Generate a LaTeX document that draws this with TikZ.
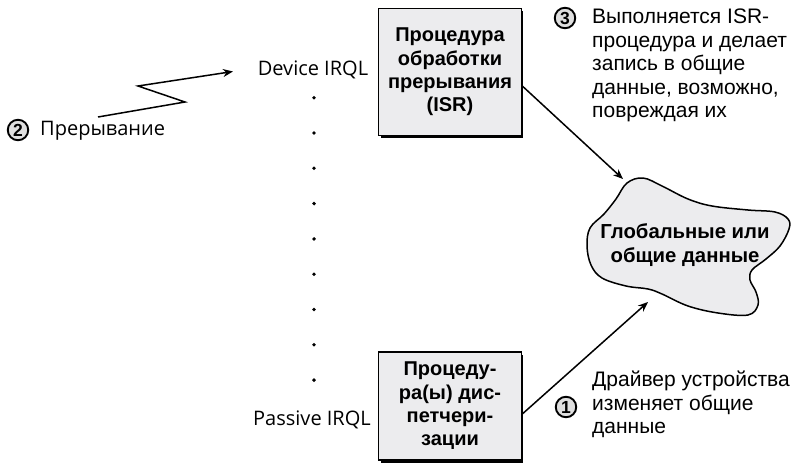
\documentclass[tikz,border=0pt]{standalone}
\usepackage{fontspec}
\setmainfont{Liberation Sans}
\newfontfamily\uifont{Open Sans}
\usetikzlibrary{arrows.meta}
\definecolor{boxfill}{HTML}{ECECEE}
\tikzset{
  x=1pt, y=-1pt,
  routine/.style={draw, line width=1.6pt, fill=boxfill, minimum width=143pt,
    align=center, font=\bfseries\fontsize{20}{23.3}\selectfont, inner sep=0pt},
  conn/.style={line width=1.5pt, -{Stealth[length=10pt,width=8pt]}},
  stepnum/.style={circle, draw, line width=1.9pt, fill=gray!25, inner sep=0pt,
    minimum size=20.5pt, font=\bfseries\fontsize{17.5}{17.5}\selectfont},
  note/.style={align=left, anchor=north west, inner sep=0pt,
    font=\fontsize{21}{23.5}\selectfont},
  level/.style={font=\uifont\fontsize{20}{22}\selectfont, inner sep=0pt},
  lvldot/.style={circle, fill=black, inner sep=0pt, minimum size=3.8pt},
}
\begin{document}
\begin{tikzpicture}
\useasboundingbox (0,0) rectangle (792,463);

% IRQL scale
\node[level] (dev) at (313,70) {Device IRQL};
\node[level] (pas) at (312,420) {Passive IRQL};
\foreach \i in {0,...,8}
  \node[lvldot] (d\i) at (314,{97.7+35.3*\i}) {};

% interrupt routine box with its shadow
\fill (381,11) rectangle (523,137.5);
\node[routine, minimum height=127pt] (isr) at (450,72)
  {Процедура\\обработки\\прерывания\\(ISR)};

% dispatch routine box with its shadow
\fill (381,355) rectangle (523,463);
\node[routine, minimum height=108pt] (dpc) at (450,406)
  {Процеду-\\ра(ы) дис-\\петчери-\\зации};

% shared data cloud
\draw[line width=1.5pt, fill=boxfill] plot[smooth cycle, tension=0.6] coordinates {
  (627,183) (643,178) (662,186) (688,199) (712,206) (748,210) (775,212)
  (788,219) (789,229) (780,246) (766,259) (752,270) (750,280) (756,292)
  (758,305) (748,315) (718,313) (688,306) (662,294) (648,289) (626,286)
  (602,278) (591,265) (587,246) (590,228) (604,214) (616,199)};
\node[font=\bfseries\fontsize{20.3}{23.5}\selectfont, align=center] (data) at (685,245)
  {Глобальные или\\общие данные};
\coordinate (datain) at (623,179);
\coordinate (dataout) at (648,302);

% connectors into the shared data
\draw[conn] (isr.east |- 0,86) -- (datain);
\draw[conn] (dpc.east |- 0,414) -- (dataout);

% interrupt bolt
\coordinate (b0) at (98,117);
\coordinate (b1) at (185,102);
\coordinate (b2) at (138,86);
\coordinate (bolttip) at (233,71.5);
\draw[conn, line join=miter] (b0) -- (b1) -- (b2) -- (bolttip);

% numbered notes
\node[stepnum] (n2) at (18,130) {2};
\node[level, anchor=west] (irq) at (40,131) {Прерывание};

\node[stepnum] (n3) at (565,18) {3};
\node[note] (t3) at (592,9)
  {Выполняется ISR-\\процедура и делает\\запись в общие\\данные, возможно,\\повреждая их};

\node[stepnum] (n1) at (566,407) {1};
\node[note] (t1) at (592,371)
  {Драйвер устройства\\изменяет общие\\данные};
\end{tikzpicture}
\end{document}
